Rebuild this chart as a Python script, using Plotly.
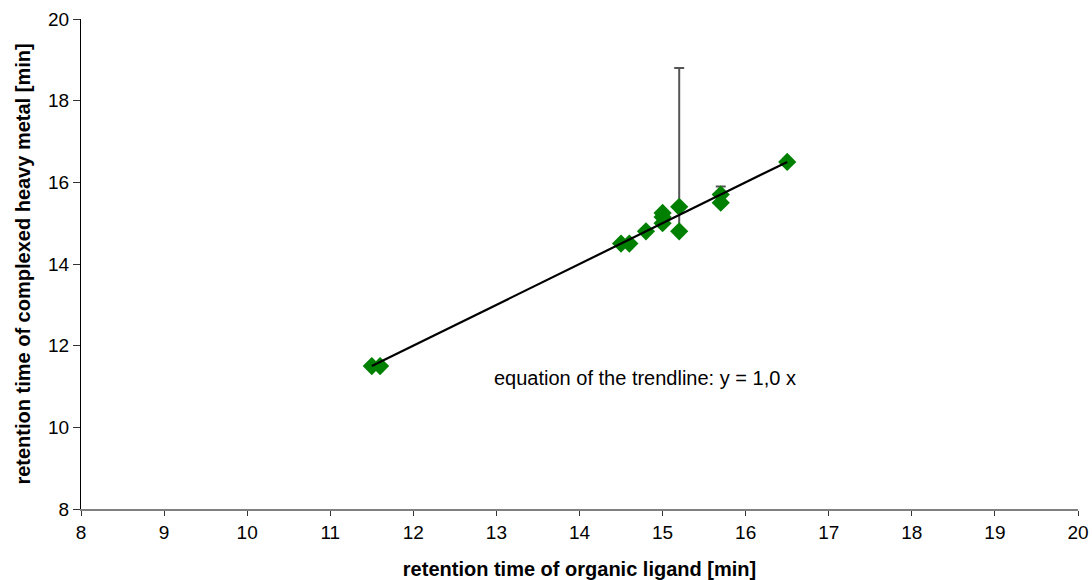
import plotly.graph_objects as go

# retention times [min]: organic ligand (x) vs. complexed heavy metal (y)
ligand_rt = [11.5, 11.6, 14.5, 14.6, 14.8, 15.0, 15.0, 15.0, 15.2, 15.2, 15.7, 15.7, 16.5]
metal_rt = [11.5, 11.5, 14.5, 14.5, 14.8, 15.0, 15.15, 15.25, 15.4, 14.8, 15.7, 15.5, 16.5]
err_plus = [0, 0, 0, 0, 0, 0, 0, 0, 0, 4.0, 0, 0.4, 0]
err_minus = [0, 0, 0, 0, 0, 0, 0, 0, 0, 0, 0, 0, 0]

# trendline y = 1.0 x over the data range
slope = 1.0
trend_x = [min(ligand_rt), max(ligand_rt)]
trend_y = [slope * v for v in trend_x]

tick_vals = list(range(8, 21))
y_tick_vals = list(range(8, 21, 2))

font_family = "Liberation Sans, Arial, sans-serif"

fig = go.Figure()

fig.add_trace(go.Scatter(
    x=ligand_rt, y=metal_rt, mode="markers",
    marker=dict(symbol="diamond", size=14, color="#008000", line=dict(width=0)),
    error_y=dict(type="data", symmetric=False, array=err_plus, arrayminus=err_minus,
                 color="#555555", thickness=2, width=5),
    showlegend=False,
))

fig.add_trace(go.Scatter(
    x=trend_x, y=trend_y, mode="lines",
    line=dict(color="black", width=2.2),
    showlegend=False,
))

fig.add_annotation(
    x=12.95, y=11.2, xref="x", yref="y", xanchor="left", yanchor="middle",
    text="equation of the trendline: y = 1,0 x", showarrow=False,
    font=dict(family=font_family, size=20, color="black"),
)

fig.update_layout(
    width=1092, height=580,
    margin=dict(l=81, r=14, t=19, b=71),
    paper_bgcolor="white", plot_bgcolor="white",
    font=dict(family=font_family, size=19, color="black"),
    xaxis=dict(
        range=[8, 20], tickvals=tick_vals, showgrid=False, zeroline=False,
        showline=True, linecolor="#808080", linewidth=1.5,
        ticks="outside", ticklen=5, tickcolor="#333333",
        tickfont=dict(size=19), automargin=False,
        title=dict(text="<b>retention time of organic ligand [min]</b>",
                   font=dict(size=20), standoff=20),
    ),
    yaxis=dict(
        range=[8, 20], tickvals=y_tick_vals, showgrid=False, zeroline=False,
        showline=True, linecolor="black", linewidth=1,
        ticks="outside", ticklen=7, tickcolor="#333333",
        tickfont=dict(size=19), automargin=False,
        title=dict(text="<b>retention time of complexed heavy metal [min]</b>",
                   font=dict(size=20), standoff=12),
    ),
)

fig.write_html("out.html")
